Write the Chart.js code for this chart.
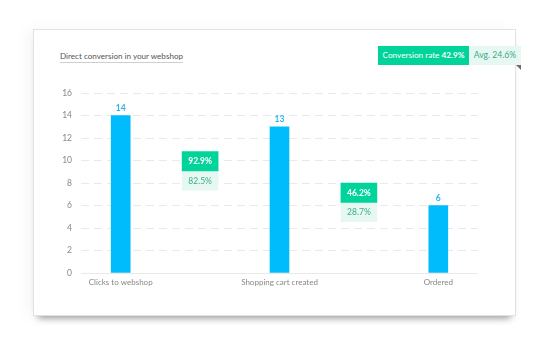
<!DOCTYPE html>
<html>
<head>
<meta charset="utf-8">
<script src="https://cdn.jsdelivr.net/npm/chart.js@4.4.0/dist/chart.umd.min.js"></script>
<style>
  html, body { margin: 0; padding: 0; background: #fff; }
  body { width: 555px; height: 352px; position: relative; overflow: hidden; font-family: Lato, sans-serif; }
  .card {
    position: absolute; left: 33px; top: 29px; width: 481px; height: 285px;
    background: #fff; border: 1px solid #e2e2e2;
    box-shadow: 0 7px 7px -5px rgba(0,0,0,0.4), -6px 0 14px rgba(0,0,0,0.04);
  }
  .title {
    position: absolute; left: 26px; top: 21px; font-size: 8.1px; color: #555;
    border-bottom: 1px solid #cfcfcf; padding-bottom: 1px;
  }
  .ribbon { position: absolute; left: 344px; top: 16px; height: 19px; display: flex; font-size: 8.2px; }
  .ribbon .rate { background: #00d49b; color: #fff; width: 91px; line-height: 19px; text-align: center; }
  .ribbon .avg { background: #e7f8f3; color: #3aa888; width: 52px; line-height: 19px; text-align: center; font-size: 8.6px; }
  .fold {
    position: absolute; left: 482px; top: 35px; width: 0; height: 0;
    border-top: 5px solid #6e6e6e; border-left: 5px solid transparent;
  }
  #chart { position: absolute; left: 0; top: 0; }
</style>
</head>
<body>
<div class="card">
  <div class="title">Direct conversion in your webshop</div>
  <div class="ribbon">
    <div class="rate">Conversion rate <b>42.9%</b></div>
    <div class="avg">Avg. 24.6%</div>
  </div>
  <div class="fold"></div>
  <canvas id="chart" width="481" height="285"></canvas>
</div>
<script>
/* -------------------------------------------------------
   Data
------------------------------------------------------- */
const categories = ['Clicks to webshop', '', 'Shopping cart created', '', 'Ordered'];
const counts     = [14, null, 13, null, 6];
const stepRates  = [null, 92.9, null, 46.2, null];   // conversion between steps (%)
const avgRates   = [null, 82.5, null, 28.7, null];   // average conversion (%)
const yTicks     = [0, 2, 4, 6, 8, 10, 12, 14, 16];

/* -------------------------------------------------------
   Colors / layout
------------------------------------------------------- */
const COLORS = {
  bar:      '#00bcfd',
  barLabel: '#29b6ef',
  green:    '#00d49b',
  light:    '#e7f8f3',
  lightTxt: '#3aae8a',
  grid:     '#e9e9e9',
  tick:     '#888888',
};
// where the rate boxes sit on the value axis (top of green box), box height in units
const boxAnchor = [null, 10.8, null, 8.0, null];
const boxH = 1.72;

const rateRanges = boxAnchor.map(t => t == null ? null : [t - boxH, t]);
const avgRanges  = boxAnchor.map(t => t == null ? null : [t - 2 * boxH, t - boxH]);

/* -------------------------------------------------------
   Labels plugin
------------------------------------------------------- */
const labelPlugin = {
  id: 'labels',
  afterDatasetsDraw(chart) {
    const c = chart.ctx;
    c.save();
    c.textAlign = 'center';
    chart.data.datasets.forEach((ds, di) => {
      const meta = chart.getDatasetMeta(di);
      meta.data.forEach((el, i) => {
        if (ds.data[i] == null) return;
        if (di === 0) {
          c.font = "bold 8.5px Lato";
          c.fillStyle = COLORS.barLabel;
          c.textBaseline = 'bottom';
          c.fillText(ds.data[i], el.x, el.y - 3);
        } else {
          const txt = (di === 1 ? stepRates[i] : avgRates[i]).toFixed(1) + '%';
          c.font = (di === 1 ? 'bold ' : '') + "8.5px Lato";
          c.fillStyle = di === 1 ? '#ffffff' : COLORS.lightTxt;
          c.textBaseline = 'middle';
          c.fillText(txt, el.x, (el.y + el.base) / 2 + 0.5);
        }
      });
    });
    c.restore();
  }
};

new Chart(document.getElementById('chart'), {
  type: 'bar',
  data: {
    labels: categories,
    datasets: [
      { data: counts, backgroundColor: COLORS.bar, barThickness: 19, grouped: false },
      { data: rateRanges, backgroundColor: COLORS.green, barThickness: 36, grouped: false },
      { data: avgRanges, backgroundColor: COLORS.light, barThickness: 36, grouped: false },
    ]
  },
  plugins: [labelPlugin],
  options: {
    responsive: false,
    animation: false,
    layout: { padding: { left: 0, right: 37, top: 63, bottom: 22 } },
    plugins: { legend: { display: false }, tooltip: { enabled: false } },
    scales: {
      x: {
        grid: { display: false, drawTicks: false, tickLength: 0 },
        border: { display: false },
        ticks: { color: COLORS.tick, font: { family: 'Lato', size: 8 }, maxRotation: 0, autoSkip: false, padding: 5 },
        afterFit(scale) { scale.height = 20; }
      },
      y: {
        min: 0, max: 16,
        afterBuildTicks(scale) { scale.ticks = yTicks.map(v => ({ value: v })); },
        grid: {
          color: COLORS.grid,
          tickLength: 0,
        },
        border: { display: false, dash: ctx => ctx.tick && ctx.tick.value === 0 ? [] : [8, 5] },
        ticks: { color: COLORS.tick, font: { family: 'Lato', size: 8.5 }, padding: 9 },
        afterFit(scale) { scale.width = 47; }
      }
    }
  }
});
</script>
</body>
</html>
